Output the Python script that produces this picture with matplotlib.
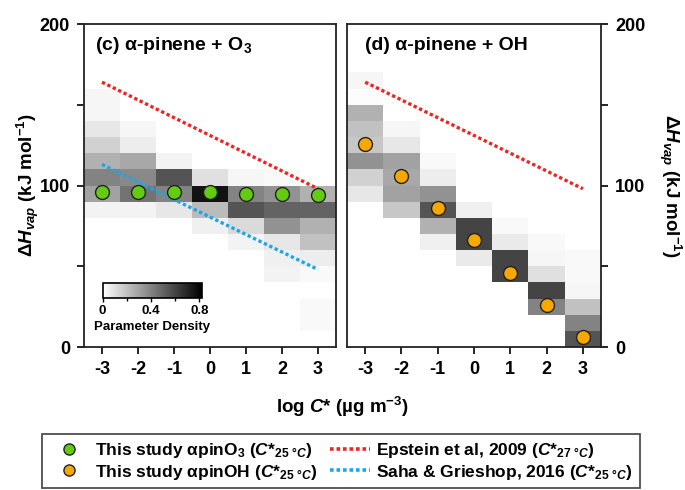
import numpy as np
import matplotlib
matplotlib.use("Agg")
import matplotlib.pyplot as plt
from matplotlib.lines import Line2D

plt.rcParams['font.family'] = ['Liberation Sans', 'DejaVu Sans']
plt.rcParams['font.weight'] = 'bold'
plt.rcParams['axes.labelweight'] = 'bold'
plt.rcParams['mathtext.fontset'] = 'custom'
plt.rcParams['mathtext.rm'] = 'Liberation Sans:bold'
plt.rcParams['mathtext.it'] = 'Liberation Sans:italic:bold'
plt.rcParams['mathtext.bf'] = 'Liberation Sans:bold'

# log C* bins and dHvap bins (kJ/mol)
logc = [-3, -2, -1, 0, 1, 2, 3]
dh_edges = np.arange(0, 180, 10)

# this study, best fits
dh_o3 = [96, 96, 96, 96, 95, 95, 94]
dh_oh = [126, 106, 86, 66, 46, 26, 6]

# literature lines (end points at logC* = -3 and 3)
epstein_x = [-3, 3]
epstein_y = [164, 98]
saha_x = [-3, 3]
saha_y = [113, 48]

# parameter density, rows from 170-160 (top) down to 10-0 (bottom), columns logC* -3..3
dens_o3 = [
    [0, 0, 0, 0, 0, 0, 0],
    [0.03, 0, 0, 0, 0, 0, 0],
    [0.03, 0, 0, 0, 0, 0, 0],
    [0.08, 0.03, 0, 0, 0, 0, 0],
    [0.15, 0.06, 0, 0, 0, 0, 0],
    [0.25, 0.28, 0.04, 0, 0, 0, 0],
    [0.40, 0.38, 0.55, 0.10, 0.03, 0.02, 0],
    [0.30, 0.45, 0.40, 0.76, 0.40, 0.35, 0.25],
    [0.04, 0.04, 0.08, 0.22, 0.55, 0.50, 0.50],
    [0, 0, 0, 0.05, 0.12, 0.35, 0.25],
    [0, 0, 0, 0, 0.04, 0.08, 0.20],
    [0, 0, 0, 0, 0, 0.05, 0.06],
    [0, 0, 0, 0, 0, 0.04, 0.02],
    [0, 0, 0, 0, 0, 0, 0],
    [0, 0, 0, 0, 0, 0, 0.02],
    [0, 0, 0, 0, 0, 0, 0.02],
    [0, 0, 0, 0, 0, 0, 0],
]
dens_oh = [
    [0.03, 0, 0, 0, 0, 0, 0],
    [0.01, 0, 0, 0, 0, 0, 0],
    [0.25, 0, 0, 0, 0, 0, 0],
    [0.20, 0.03, 0, 0, 0, 0, 0],
    [0.18, 0.08, 0, 0, 0, 0, 0],
    [0.35, 0.30, 0.02, 0, 0, 0, 0],
    [0.15, 0.28, 0.06, 0, 0, 0, 0],
    [0.08, 0.30, 0.35, 0, 0, 0, 0],
    [0, 0.18, 0.55, 0.05, 0, 0, 0],
    [0, 0, 0.25, 0.60, 0.02, 0, 0],
    [0, 0, 0.05, 0.60, 0.07, 0.02, 0],
    [0, 0, 0, 0.07, 0.60, 0.03, 0.02],
    [0, 0, 0, 0, 0.60, 0.10, 0.02],
    [0, 0, 0, 0, 0, 0.60, 0.03],
    [0, 0, 0, 0, 0, 0.40, 0.20],
    [0, 0, 0, 0, 0, 0, 0.40],
    [0, 0, 0, 0, 0, 0, 0.55],
]
cbar_ticks = [0, 0.4, 0.8]
cbar_labels = ['0', '0.4', '0.8']

red = '#f02424'
blue = '#1aa7e8'
green = '#63cc10'
orange = '#f7a800'
vmax = 0.82
dots = (0, (1, 0.8))

fig = plt.figure(figsize=(6.85, 4.9), dpi=100)
ax1 = fig.add_axes([0.1226, 0.2918, 0.3679, 0.6592])
ax2 = fig.add_axes([0.5066, 0.2918, 0.3708, 0.6592])

x_edges = np.arange(-3.5, 4.0, 1.0)

def draw_panel(ax, dens, pts, col, title, tx):
    z = np.array(dens)[::-1]
    mesh = ax.pcolormesh(x_edges, dh_edges, z, cmap='gray_r', vmin=0, vmax=vmax)
    ax.plot(epstein_x, epstein_y, color=red, lw=2.4, ls=dots)
    ax.plot(logc, pts, 'o', ms=10, mfc=col, mec='#222222', mew=1.0, zorder=5)
    ax.set_xlim(-3.5, 3.5)
    ax.set_ylim(0, 200)
    ax.set_xticks(logc)
    ax.set_xticklabels([str(v) for v in logc])
    ax.set_yticks([0, 50, 100, 150, 200])
    ax.set_yticklabels(['0', '', '100', '', '200'])
    ax.tick_params(direction='out', length=5, width=1.2, labelsize=13, pad=5)
    for s in ax.spines.values():
        s.set_linewidth(1.3)
        s.set_color('#222222')
    ax.text(tx, 0.935, title, transform=ax.transAxes, fontsize=14,
            fontweight='bold', va='center', ha='left')
    return mesh

mesh = draw_panel(ax1, dens_o3, dh_o3, green, r'(c) α-pinene + O$_3$', 0.044)
ax1.plot(saha_x, saha_y, color=blue, lw=2.4, ls=dots)
draw_panel(ax2, dens_oh, dh_oh, orange, '(d) α-pinene + OH', 0.07)

ylab = r'$\Delta H_{vap}$ (kJ mol$^{-1}$)'
ax1.set_ylabel(ylab, fontsize=13.5)
ax1.yaxis.set_label_coords(-0.17, 0.5)
ax2.yaxis.tick_right()
ax2.yaxis.set_label_position('right')
ax2.set_ylabel(ylab, fontsize=13.5, rotation=270)
ax2.yaxis.label.set_va('bottom')
ax2.yaxis.set_label_coords(1.22, 0.5)

fig.text(0.5, 0.169, r'log $C$* (µg m$^{-3}$)', ha='center', va='center', fontsize=13.5)

# colour bar inset
cax = ax1.inset_axes([0.074, 0.152, 0.393, 0.046])
cb = fig.colorbar(mesh, cax=cax, orientation='horizontal')
cb.set_ticks(cbar_ticks)
cb.set_ticklabels(cbar_labels)
cb.ax.set_xticks([0.2, 0.6], minor=True)
cb.ax.tick_params(labelsize=9.5, length=3, width=1, pad=2)
cb.ax.tick_params(which='minor', length=2, width=1)
cb.outline.set_linewidth(1.2)
cb.set_label('Parameter Density', fontsize=9.5, labelpad=3)

handles = [
    Line2D([], [], ls='none', marker='o', ms=8, mfc=green, mec='#222222', mew=1),
    Line2D([], [], ls='none', marker='o', ms=8, mfc=orange, mec='#222222', mew=1),
    Line2D([], [], color=red, lw=2.6, ls=dots),
    Line2D([], [], color=blue, lw=2.6, ls=dots),
]
labels = [
    r'This study αpinO$_3$ ($C{*}_{25\ °C}$)',
    r'This study αpinOH ($C{*}_{25\ °C}$)',
    r'Epstein et al, 2009 ($C{*}_{27\ °C}$)',
    r'Saha & Grieshop, 2016 ($C{*}_{25\ °C}$)',
]
leg = fig.legend(handles, labels, ncol=2, loc='upper center',
                 bbox_to_anchor=(0.498, 0.1143), fontsize=12.5, frameon=True,
                 fancybox=False, edgecolor='#222222', handlelength=2.3,
                 columnspacing=0.7, borderpad=0.4, labelspacing=0.15,
                 handletextpad=0.35, borderaxespad=0)
leg.get_frame().set_linewidth(1.3)

fig.savefig('out.png', dpi=100)
